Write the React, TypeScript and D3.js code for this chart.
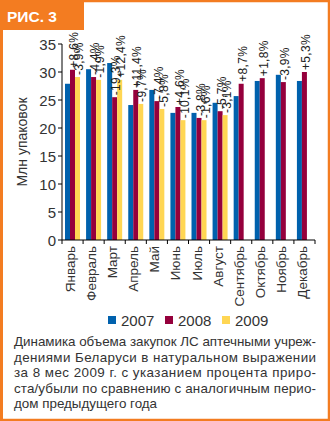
import React from "react";
import * as d3 from "d3";

const months = ["Январь", "Февраль", "Март", "Апрель", "Май", "Июнь", "Июль", "Август", "Сентябрь", "Октябрь", "Ноябрь", "Декабрь"];
const years = ["2007", "2008", "2009"];
const v2007 = [27.9, 30.5, 31.6, 24.1, 26.8, 22.7, 22.7, 24.5, 25.7, 28.4, 29.5, 28.4];
const v2008 = [30.4, 29.1, 25.5, 26.8, 24.8, 23.75, 21.8, 23.0, 27.9, 28.9, 28.2, 30.0];
const v2009 = [29.1, 28.6, 28.6, 24.3, 23.4, 21.4, 21.4, 22.3];
const pct2008 = ["+8,6%", "-4,4%", "-19,3%", "+11,4%", "-7,4%", "+4,6%", "-3,8%", "-5,7%", "+8,7%", "+1,8%", "-3,9%", "+5,3%"];
const pct2009 = ["-3,9%", "-1,9%", "+12,4%", "-9,7%", "-5,8%", "-10,1%", "-1,6%", "-3,1%"];
const yTicks = [0, 5, 10, 15, 20, 25, 30, 35];
const colors = ["#0061AD", "#95003C", "#FFD653"];
const captionLines = [
  "Динамика объема закупок ЛС аптечными учреж-",
  "дениями Беларуси в натуральном выражении",
  "за 8 мес 2009 г. с указанием процента приро-",
  "ста/убыли по сравнению с аналогичным перио-",
  "дом предыдущего года",
];

const W = 330;
const H = 421;
const orange = "#F37C21";
const font = "'Liberation Sans', Arial, sans-serif";

export default function App() {
  const x0 = d3.scaleBand<string>().domain(months).range([62, 315]).padding(0);
  const x1 = d3.scaleBand<string>().domain(years).range([3, 18]).padding(0);
  const y = d3.scaleLinear().domain([0, 35]).range([240, 44]);
  const series = [v2007, v2008, v2009];
  const step = x0.step();

  const labels: { key: string; cx: number; ty: number; text: string }[] = [];
  months.forEach((m, i) => {
    const pos = (k: number) => (x0(m) as number) + (x1(years[k]) as number) + x1.bandwidth() / 2 + 1.5;
    labels.push({ key: `${m}-1`, cx: pos(1), ty: y(v2008[i]) - 2, text: pct2008[i] });
    if (v2009[i] !== undefined) labels.push({ key: `${m}-2`, cx: pos(2), ty: y(v2009[i]) - 2, text: pct2009[i] });
  });

  return (
    <svg width={W} height={H} style={{ position: "absolute", left: 0, top: 0, background: "#fff" }} fontFamily={font}>
      {/* frame */}
      <rect x={1.5} y={1} width={W - 2.5} height={H - 2} fill="none" stroke={orange} strokeWidth={2.5} />
      <rect x={0} y={0} width={3} height={H} fill={orange} />
      <rect x={0} y={0} width={84} height={30} fill={orange} />
      <text x={7} y={22} fill="#fff" fontWeight="bold" fontSize={15.5}>РИС. 3</text>

      {/* bars */}
      {months.map((m, i) => (
        <g key={m} transform={`translate(${x0(m)},0)`}>
          {series.map((s, k) =>
            s[i] !== undefined ? (
              <rect key={k} x={x1(years[k])} y={y(s[i])} width={x1.bandwidth()} height={y(0) - y(s[i])} fill={colors[k]} />
            ) : null
          )}
        </g>
      ))}

      {/* bar labels */}
      {labels.map((l) => (
        <text key={l.key} transform={`translate(${l.cx + 4.2},${l.ty}) rotate(-90)`} x={0} y={0} fontSize={12} letterSpacing={0.3} fill="#222">
          {l.text}
        </text>
      ))}

      {/* y axis */}
      <line x1={62} x2={62} y1={44} y2={240} stroke="#000" strokeWidth={1} />
      {yTicks.map((t) => (
        <g key={t}>
          <line x1={58} x2={62} y1={y(t)} y2={y(t)} stroke="#000" />
          <text x={56} y={y(t)} textAnchor="end" dominantBaseline="central" fontSize={15} fill="#333">{t}</text>
        </g>
      ))}
      <text transform={`translate(22,142) rotate(-90)`} textAnchor="middle" dominantBaseline="central" fontSize={14} fill="#333">Млн упаковок</text>

      {/* x axis */}
      <line x1={62} x2={315} y1={240} y2={240} stroke="#000" strokeWidth={1.2} />
      {d3.range(months.length + 1).map((i) => (
        <line key={i} x1={62 + i * step} x2={62 + i * step} y1={240} y2={244} stroke="#000" />
      ))}
      {months.map((m) => (
        <text key={m} transform={`translate(${(x0(m) as number) + step / 2 - 2},246) rotate(-90)`} textAnchor="end" dominantBaseline="central" fontSize={13.5} fill="#333">
          {m}
        </text>
      ))}

      {/* legend */}
      {years.map((yr, k) => (
        <g key={yr} transform={`translate(${108 + k * 57},316)`}>
          <rect x={0} y={0} width={8} height={8} fill={colors[k]} />
          <text x={13} y={10} fontSize={15} fill="#333">{yr}</text>
        </g>
      ))}

      {/* caption */}
      {captionLines.map((line, i) => (
        <text
          key={i}
          x={14}
          y={346 + i * 15.5}
          fontSize={13.4}
          fill="#333"
          {...(i < captionLines.length - 1 ? { textLength: 302, lengthAdjust: "spacing" } : {})}
        >
          {line}
        </text>
      ))}
    </svg>
  );
}
